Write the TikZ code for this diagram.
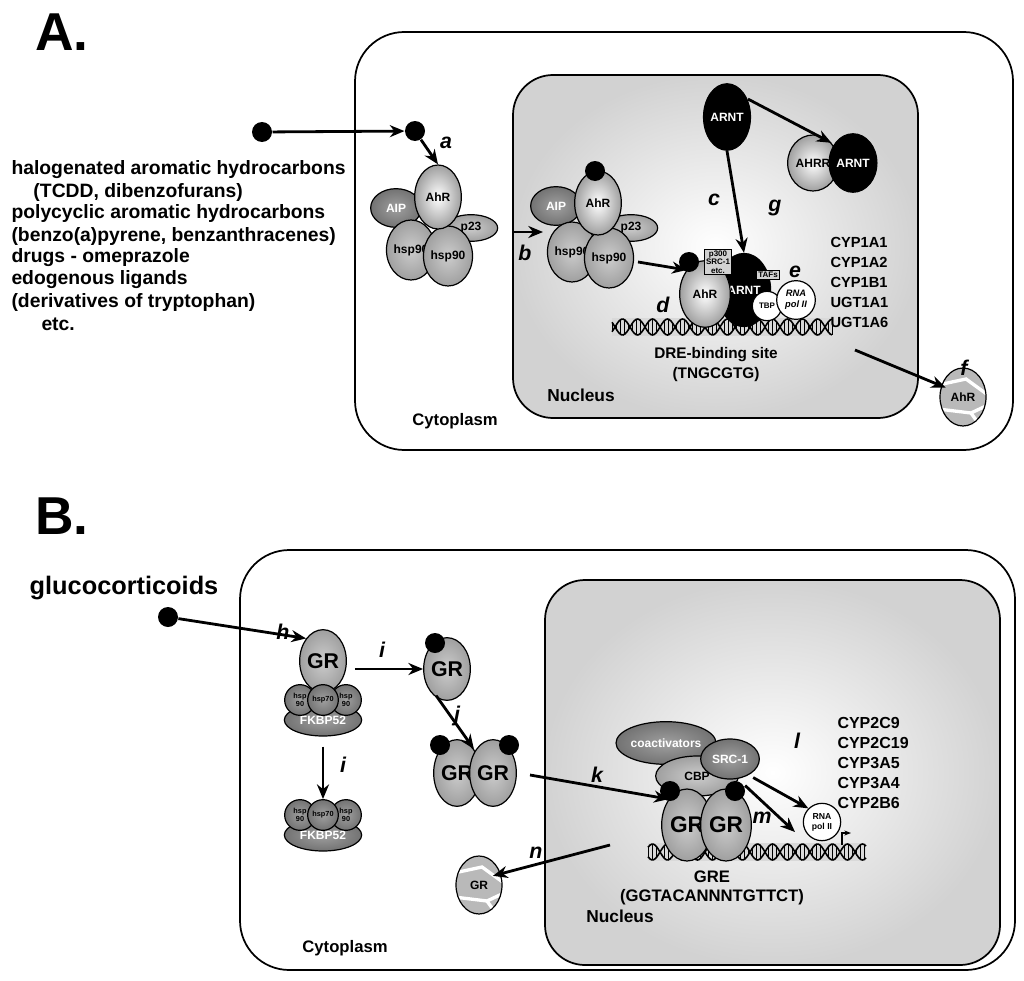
\documentclass[tikz,border=0pt]{standalone}
\usepackage{fontspec}
\setmainfont{Liberation Sans}
\usetikzlibrary{shapes.geometric,arrows.meta,positioning}
\tikzset{every picture/.style={line width=0.75pt}}
\tikzset{
  prot/.style={ellipse, draw, line width=0.9pt, inner sep=0pt, shading=radial, inner color=white, outer color=gray!75, font=\bfseries\fontsize{9}{10}\selectfont},
  midp/.style={prot, inner color=gray!40, outer color=gray!75},
  darkp/.style={prot, inner color=gray!75, outer color=gray!90!black, text=white},
  blackp/.style={ellipse, draw, fill=black, inner sep=0pt, text=white, font=\bfseries\fontsize{9}{10}\selectfont},
  lig/.style={circle, fill=black, minimum size=15pt, inner sep=0pt},
  arr/.style={-{Stealth[length=11pt,width=9pt]}, line width=2.1pt},
  stp/.style={font=\bfseries\itshape\fontsize{16}{18}\selectfont},
  txt/.style={font=\bfseries\fontsize{14.5}{16}\selectfont, inner sep=0.75pt},
  gene/.style={font=\bfseries\fontsize{11}{15}\selectfont, inner sep=0.75pt, align=left, anchor=north west},
  box/.style={draw, fill=gray!35, inner sep=1pt, align=center, font=\bfseries\fontsize{6}{6.5}\selectfont}
}
\newcommand{\dna}[3]{% x0, x1, y
  \fill[gray!30] (#1,#3-9) rectangle (#2,#3+9);
  \draw[line width=1.2pt, domain=#1:#2, samples=120] plot (\x,{#3+8*sin(\x*12)});
  \draw[line width=1.2pt, domain=#1:#2, samples=120] plot (\x,{#3-8*sin(\x*12)});
  \foreach \q in {#1,...,#2} {\pgfmathparse{mod(\q,4)==0}\ifnum\pgfmathresult=1 \draw[line width=0.5pt] (\q,{#3+8*sin(\q*12)}) -- (\q,{#3-8*sin(\q*12)});\fi}
}
\newcommand{\degraded}[4]{% x, y, name, label
  \begin{scope}
    \clip (#1,#2) ellipse [x radius=23, y radius=29];
    \fill[gray!55] (#1,#2) ellipse [x radius=23, y radius=29];
    \draw[white, line width=2.5pt] (#1-25,#2-12) -- (#1+3,#2-18) -- (#1+25,#2-2);
    \draw[white, line width=2.5pt] (#1-25,#2+12) -- (#1+8,#2+16) -- (#1+25,#2+8);
    \draw[white, line width=2.5pt] (#1+8,#2+16) -- (#1+18,#2+30);
  \end{scope}
  \draw[line width=0.9pt] (#1,#2) ellipse [x radius=23, y radius=29];
  \node[font=\bfseries\fontsize{9}{10}\selectfont] (#3) at (#1,#2) {#4};
}

\begin{document}
\begin{tikzpicture}[x=0.75pt,y=0.75pt,yscale=-1,xscale=1]
\useasboundingbox (0,0) rectangle (1024,981);

% ---------------- panel A ----------------
\node[font=\bfseries\fontsize{40}{42}\selectfont] (labA) at (62,32) {A.};
\draw[line width=1.3pt, rounded corners=37pt] (355,32) rectangle (1013,450);
\draw[line width=1.3pt, rounded corners=30pt, shading=radial, inner color=white, outer color=gray!35] (513,75) rectangle (918,418);
\node[txt, font=\bfseries\fontsize{12.5}{14}\selectfont] (cytA) at (455,421) {Cytoplasm};
\node[txt, font=\bfseries\fontsize{13}{14}\selectfont] (nucA) at (581,395) {Nucleus};

% ligand list
\node[txt, anchor=west] (t1) at (10,170) {halogenated aromatic hydrocarbons};
\node[txt, anchor=west] (t2) at (32,192) {(TCDD, dibenzofurans)};
\node[txt, anchor=west] (t3) at (10,214) {polycyclic aromatic hydrocarbons};
\node[txt, anchor=west] (t4) at (10,236) {(benzo(a)pyrene, benzanthracenes)};
\node[txt, anchor=west] (t5) at (10,258) {drugs - omeprazole};
\node[txt, anchor=west] (t6) at (10,280) {edogenous ligands};
\node[txt, anchor=west] (t7) at (10,302) {(derivatives of tryptophan)};
\node[txt, anchor=west] (t8) at (40,324) {etc.};

\node[lig] (ligA0) at (262,132) {};
\node[lig] (ligA1) at (415,131) {};
\draw[arr] (ligA0) -- (ligA1);
\node[stp] (sa) at (446,143) {a};

% cytoplasmic AhR complex
\node[darkp, minimum width=38pt, minimum height=29pt] (aip1) at (396,208) {AIP};
\node[midp, minimum width=40pt, minimum height=20pt] (p231) at (471,228) {p23};
\node[midp, minimum width=32pt, minimum height=45pt] (hspa1) at (411,250) {hsp90};
\node[midp, minimum width=32pt, minimum height=45pt] (hspa2) at (448,256) {hsp90};
\node[prot, minimum width=35pt, minimum height=48pt] (ahr1) at (438,197) {AhR};
\draw[arr] (ligA1) -- (ahr1.north);

% translocated complex
\node[darkp, minimum width=38pt, minimum height=29pt] (aip2) at (556,206) {AIP};
\node[midp, minimum width=40pt, minimum height=20pt] (p232) at (631,228) {p23};
\node[midp, minimum width=32pt, minimum height=45pt] (hspa3) at (572,252) {hsp90};
\node[midp, minimum width=32pt, minimum height=45pt] (hspa4) at (609,258) {hsp90};
\node[prot, minimum width=35pt, minimum height=48pt] (ahr2) at (598,203) {AhR};
\node[lig] (ligA2) at (595,171) {};
\coordinate (bstart) at (513,232);
\coordinate (bend) at (543,232);
\draw[arr] (bstart) -- (bend);
\node[stp] (sb) at (525,253) {b};

% ARNT and AHRR
\node[blackp, minimum width=35pt, minimum height=50pt] (arnt0) at (727,117) {ARNT};
\node[prot, minimum width=38pt, minimum height=42pt] (ahrr) at (813,163) {AHRR};
\node[blackp, minimum width=36pt, minimum height=44pt] (arnt1) at (853,163) {ARNT};
\draw[arr] (arnt0.north east) ++(4,6) -- (ahrr.north east);
\node[stp] (sc) at (714,200) {c};
\node[stp] (sg) at (775,208) {g};

% DNA bound complex
\dna{612}{832}{327}
\node[blackp, minimum width=40pt, minimum height=55pt] (arnt2) at (744,290) {ARNT};
\node[prot, minimum width=38pt, minimum height=50pt] (ahr3) at (705,294) {AhR};
\node[lig] (ligA3) at (689,262) {};
\node[box] (p300) at (718,262) {p300\\SRC-1\\etc.};
\node[box] (tafs) at (768,275) {TAFs};
\node[circle, draw, fill=white, line width=0.9pt, minimum size=22pt, inner sep=0pt, font=\bfseries\fontsize{6}{6.5}\selectfont] (tbp) at (767,306) {TBP};
\node[circle, draw, fill=white, line width=0.9pt, minimum size=29pt, inner sep=0pt, align=center, font=\bfseries\itshape\fontsize{7}{8}\selectfont] (pol1) at (796,300) {RNA\\pol II};
\node[stp] (se) at (795,272) {e};
\draw[arr] (arnt0.south) -- (arnt2.north);
\coordinate (dstart) at (638,262);
\draw[arr] (dstart) -- (ahr3.north west);
\node[stp] (sd) at (663,305) {d};
\node[txt, font=\bfseries\fontsize{11.5}{13}\selectfont] (dre) at (716,355) {DRE-binding site};
\node[txt, font=\bfseries\fontsize{11.5}{13}\selectfont] (tng) at (716,375) {(TNGCGTG)};
\node[gene] (genesA) at (829,236) {CYP1A1\\CYP1A2\\CYP1B1\\UGT1A1\\UGT1A6};

% degradation
\degraded{963}{397}{degA}{AhR}
\coordinate (fstart) at (855,350);
\draw[arr] (fstart) -- (degA.north west);
\node[stp] (sf) at (964,368) {f};

% ---------------- panel B ----------------
\node[font=\bfseries\fontsize{40}{42}\selectfont] (labB) at (62,516) {B.};
\draw[line width=1.3pt, rounded corners=37pt] (240,550) rectangle (1015,970);
\draw[line width=1.3pt, rounded corners=30pt, shading=radial, inner color=white, outer color=gray!35] (545,580) rectangle (1000,965);
\node[txt, font=\bfseries\fontsize{12.5}{14}\selectfont] (cytB) at (345,948) {Cytoplasm};
\node[txt, font=\bfseries\fontsize{13}{14}\selectfont] (nucB) at (620,916) {Nucleus};

\node[font=\bfseries\fontsize{19}{21}\selectfont] (gluco) at (124,588) {glucocorticoids};
\node[lig] (ligB0) at (168,617) {};
\node[stp] (sh) at (283,632) {h};

% GR with chaperones
\node[darkp, minimum width=58pt, minimum height=24pt] (fkbp1) at (323,720) {FKBP52};
\node[midp, minimum width=35pt, minimum height=47pt, font=\bfseries\fontsize{16}{18}\selectfont] (gr1) at (323,661) {GR};
\foreach \n/\xx/\t in {h1/300/hsp\\90, h3/346/hsp\\90, h2/323/hsp70} {
  \node[darkp, circle, minimum size=23pt, text=black, align=center, font=\bfseries\fontsize{5.5}{6}\selectfont] (\n a) at (\xx,700) {\t};
}
\draw[arr] (ligB0) -- (gr1.north west);

\node[darkp, minimum width=58pt, minimum height=24pt] (fkbp2) at (323,835) {FKBP52};
\foreach \n/\xx/\t in {h1/300/hsp\\90, h3/346/hsp\\90, h2/323/hsp70} {
  \node[darkp, circle, minimum size=23pt, text=black, align=center, font=\bfseries\fontsize{5.5}{6}\selectfont] (\n b) at (\xx,815) {\t};
}
\draw[arr] (fkbp1.south) ++(0,10) -- (h2b.north);
\node[stp] (si2) at (343,765) {i};

% free GR
\node[midp, minimum width=35pt, minimum height=47pt, font=\bfseries\fontsize{16}{18}\selectfont] (gr2) at (447,669) {GR};
\node[lig] (ligB1) at (435,643) {};
\draw[arr] (gr1.east |- gr2) ++(8,0) -- (gr2.west);
\node[stp] (si1) at (382,650) {i};

% dimer
\node[midp, minimum width=35pt, minimum height=50pt, font=\bfseries\fontsize{16}{18}\selectfont] (gr3) at (457,773) {GR};
\node[midp, minimum width=35pt, minimum height=50pt, font=\bfseries\fontsize{16}{18}\selectfont] (gr4) at (493,773) {GR};
\node[lig] (ligB2) at (440,745) {};
\node[lig] (ligB3) at (509,745) {};
\draw[arr] (gr2.south west) ++(6,4) -- (gr3.north east);
\node[stp] (sj) at (457,716) {j};

% nuclear complex
\dna{648}{866}{852}
\node[darkp, minimum width=70pt, minimum height=32pt] (coact) at (666,743) {coactivators};
\node[midp, minimum width=62pt, minimum height=30pt] (cbp) at (697,776) {CBP};
\node[darkp, minimum width=44pt, minimum height=30pt] (src) at (730,759) {SRC-1};
\node[midp, minimum width=38pt, minimum height=54pt, font=\bfseries\fontsize{17}{19}\selectfont] (gr5) at (687,825) {GR};
\node[midp, minimum width=38pt, minimum height=54pt, font=\bfseries\fontsize{17}{19}\selectfont] (gr6) at (726,825) {GR};
\node[lig] (ligB4) at (670,791) {};
\node[lig] (ligB5) at (735,791) {};
\node[circle, draw, fill=white, line width=0.9pt, minimum size=28pt, inner sep=0pt, align=center, font=\bfseries\fontsize{6.5}{7.5}\selectfont] (pol2) at (822,822) {RNA\\pol II};
\coordinate (tss) at (842,845);
\draw[-{Stealth[length=5pt]}, line width=1.2pt] (tss) -- ++(0,-12) -- ++(9,0);
\coordinate (kstart) at (530,775);
\draw[arr] (kstart) -- (gr5.north west);
\node[stp] (sk) at (597,775) {k};
\draw[arr] (src.south east) ++(2,4) -- (pol2.north west);
\node[stp] (sl) at (797,741) {l};
\coordinate (mend) at (795,832);
\draw[arr] (src.south east) ++(-6,12) -- (mend);
\node[stp] (sm) at (762,818) {m};
\node[txt, font=\bfseries\fontsize{12.5}{14}\selectfont] (gre) at (712,877) {GRE};
\node[txt, font=\bfseries\fontsize{12.5}{14}\selectfont] (greseq) at (712,897) {(GGTACANNNTGTTCT)};
\node[gene, font=\bfseries\fontsize{12}{15}\selectfont] (genesB) at (836,716) {CYP2C9\\CYP2C19\\CYP3A5\\CYP3A4\\CYP2B6};

% degradation
\degraded{479}{885}{degB}{GR}
\coordinate (nstart) at (610,845);
\draw[arr] (nstart) -- (degB.north east);
\node[stp] (sn) at (536,853) {n};
\end{tikzpicture}
\end{document}
